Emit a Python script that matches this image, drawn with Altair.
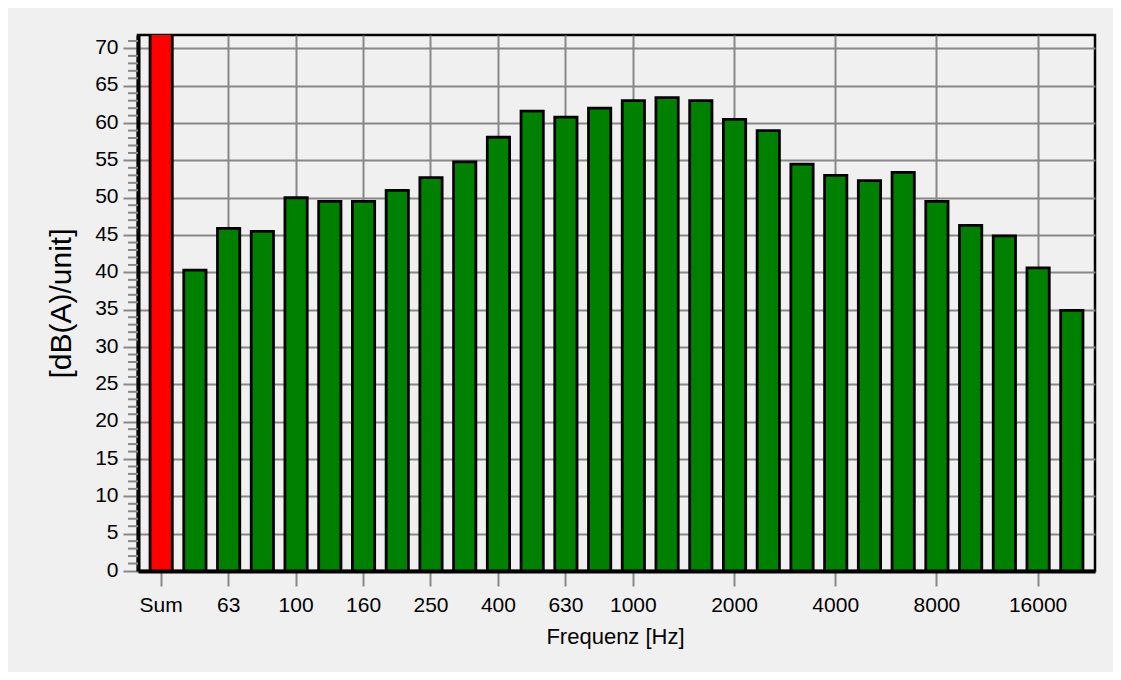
import altair as alt
import pandas as pd

categories = ["Sum", "50", "63", "80", "100", "125", "160", "200", "250", "315",
              "400", "500", "630", "800", "1000", "1250", "1600", "2000", "2500",
              "3150", "4000", "5000", "6300", "8000", "10000", "12500", "16000", "20000"]
values = [73.0, 40.3, 45.9, 45.5, 50.0, 49.5, 49.5, 51.0, 52.7, 54.8,
          58.1, 61.6, 60.8, 62.0, 63.0, 63.4, 63.0, 60.5, 59.0,
          54.5, 53.0, 52.3, 53.4, 49.5, 46.3, 44.9, 40.6, 34.9]
kinds = ["Sum"] + ["Band"] * 27
tick_labels = ["Sum", "63", "100", "160", "250", "400", "630", "1000",
               "2000", "4000", "8000", "16000"]
major_y = list(range(0, 71, 5))
minor_y = [v for v in range(0, 72) if v % 5 != 0]

df = pd.DataFrame({"freq": categories, "db": values, "kind": kinds})
minor_df = pd.DataFrame({"db": minor_y})

FONT = "Liberation Sans"
GRID = "#888888"

y_axis = alt.Axis(values=major_y, title="[dB(A)/unit]", titleFontSize=30,
                  titleFontWeight="normal", titleColor="black",
                  titleX=-77, titleY=268, titleBaseline="middle",
                  labelFontSize=21, labelColor="black", labelPadding=5,
                  labelOffset=-1, labelOverlap=False, labelFlush=False,
                  tickSize=15, tickColor=GRID, tickWidth=2,
                  domainColor="black", domainWidth=4,
                  grid=True, gridColor=GRID, gridWidth=2)
y_scale = alt.Scale(domain=[0, 71.8], nice=False, zero=True)

bars = alt.Chart(df).mark_bar(stroke="black", strokeWidth=2.8, clip=True).encode(
    x=alt.X("freq:N", sort=categories,
            scale=alt.Scale(paddingInner=0.34, paddingOuter=0.357),
            axis=alt.Axis(values=tick_labels, bandPosition=0.5, labelAngle=0,
                          title="Frequenz [Hz]", titleFontSize=22, titleFontWeight="normal",
                          titleColor="black", titleX=477, titleY=72,
                          titleBaseline="alphabetic",
                          labelFontSize=21, labelColor="black", labelPadding=8,
                          labelOverlap=False,
                          tickSize=15, tickColor=GRID, tickWidth=2,
                          domainColor="black", domainWidth=4,
                          grid=True, gridColor=GRID, gridWidth=2)),
    y=alt.Y("db:Q", scale=y_scale, axis=y_axis),
    color=alt.Color("kind:N", scale=alt.Scale(domain=["Sum", "Band"],
                                              range=["#ff0000", "#008000"]),
                    legend=None),
)

minor = alt.Chart(minor_df).mark_rule(color=GRID, strokeWidth=2).encode(
    y=alt.Y("db:Q", scale=y_scale, axis=y_axis),
    x=alt.value(-10),
    x2=alt.value(0),
)

chart = alt.layer(bars, minor).properties(
    width=957, height=536,
    autosize=alt.AutoSizeParams(type="none"),
    padding={"left": 130, "top": 27, "right": 18, "bottom": 101},
    background="#f0f0f0",
).configure(font=FONT).configure_view(stroke="black", strokeWidth=2.5, fill="#f0f0f0")

chart.save("out.html", embed_options={"renderer": "svg", "actions": False})
